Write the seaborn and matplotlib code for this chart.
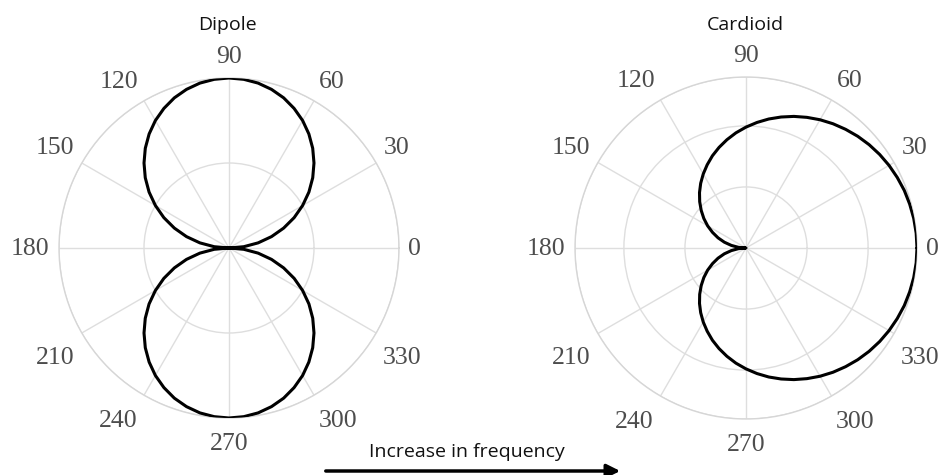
import numpy as np
import pandas as pd
import matplotlib
matplotlib.use("Agg")
import matplotlib.pyplot as plt
from matplotlib.transforms import ScaledTranslation
import seaborn as sns

# ---- data ----
angles_deg = list(range(0, 361, 5))
dipole_r = [0.000, 0.087, 0.174, 0.259, 0.342, 0.423, 0.500, 0.574, 0.643, 0.707,
            0.766, 0.819, 0.866, 0.906, 0.940, 0.966, 0.985, 0.996, 1.000,
            0.996, 0.985, 0.966, 0.940, 0.906, 0.866, 0.819, 0.766, 0.707, 0.643,
            0.574, 0.500, 0.423, 0.342, 0.259, 0.174, 0.087, 0.000,
            0.087, 0.174, 0.259, 0.342, 0.423, 0.500, 0.574, 0.643, 0.707,
            0.766, 0.819, 0.866, 0.906, 0.940, 0.966, 0.985, 0.996, 1.000,
            0.996, 0.985, 0.966, 0.940, 0.906, 0.866, 0.819, 0.766, 0.707, 0.643,
            0.574, 0.500, 0.423, 0.342, 0.259, 0.174, 0.087, 0.000]
cardioid_r = [1.000, 0.999, 0.996, 0.991, 0.985, 0.976, 0.966, 0.954, 0.940, 0.924,
              0.906, 0.887, 0.866, 0.843, 0.819, 0.793, 0.766, 0.737, 0.707, 0.676,
              0.643, 0.609, 0.574, 0.537, 0.500, 0.462, 0.423, 0.383, 0.342, 0.301,
              0.259, 0.216, 0.174, 0.131, 0.087, 0.044, 0.000,
              0.044, 0.087, 0.131, 0.174, 0.216, 0.259, 0.301, 0.342, 0.383, 0.423,
              0.462, 0.500, 0.537, 0.574, 0.609, 0.643, 0.676, 0.707, 0.737, 0.766,
              0.793, 0.819, 0.843, 0.866, 0.887, 0.906, 0.924, 0.940, 0.954, 0.966,
              0.976, 0.985, 0.991, 0.996, 0.999, 1.000]
tick_angles = [0, 30, 60, 90, 120, 150, 180, 210, 240, 270, 300, 330]
tick_labels = ["0", "30", "60", "90", "120", "150", "180", "210", "240", "270", "300", "330"]
titles = ["Dipole", "Cardioid"]
dipole_rings = [0.5, 1.0]
cardioid_rings = [0.357, 0.714, 1.0]
arrow_text = "Increase in frequency"

# extra per-label shifts (pixels, x right / y up) to mimic the reference's edge-aligned labels
label_shift = [(-4.5, -1), (3.8, 5.2), (8.2, 1.8), (0, 1.5), (-15.2, 1.8), (-9.8, 5.2),
               (-9.5, -1), (-9.8, -15.2), (-16.2, -8.8), (0, -6.5), (14.2, -8.8), (8.8, -15.2)]

sns.set_theme(style="white")
plt.rcParams["font.family"] = ["Open Sans", "DejaVu Sans"]

fig = plt.figure(figsize=(9.42, 4.75), dpi=100)
W, H = 942, 475
ax1 = fig.add_axes([59 / W, (475 - 248 - 170) / H, 340 / W, 340 / H], projection="polar")
ax2 = fig.add_axes([575 / W, (475 - 248 - 171) / H, 342 / W, 342 / H], projection="polar")

df1 = pd.DataFrame({"theta": np.deg2rad(angles_deg), "r": dipole_r})
df2 = pd.DataFrame({"theta": np.deg2rad(angles_deg), "r": cardioid_r})

for ax, df, rings, title in [(ax1, df1, dipole_rings, titles[0]),
                              (ax2, df2, cardioid_rings, titles[1])]:
    sns.lineplot(data=df, x="theta", y="r", ax=ax, sort=False, estimator=None,
                 color="black", lw=2.2, zorder=5)
    ax.set_rlim(0, 1.0)
    ax.set_rticks(rings)
    ax.set_yticklabels([])
    ax.set_thetagrids(tick_angles, tick_labels, fontfamily="Liberation Serif",
                      fontsize=18.5, color="#4d4d4d")
    ax.tick_params(axis="x", length=0, pad=0)
    ax.tick_params(axis="y", length=0)
    for tick, (sx, sy) in zip(ax.xaxis.get_major_ticks(), label_shift):
        tick.label1.set_transform(tick.label1.get_transform() +
                                  ScaledTranslation(sx / 100, sy / 100, fig.dpi_scale_trans))
    ax.grid(True, color="#dedede", lw=1.0)
    ax.spines["polar"].set_color("#d6d6d6")
    ax.spines["polar"].set_linewidth(1.0)
    ax.set_xlabel("")
    ax.set_ylabel("")

fig.text(227 / W, 1 - 25 / H, titles[0], ha="center", va="center", fontsize=14, color="#111111")
fig.text(745 / W, 1 - 25 / H, titles[1], ha="center", va="center", fontsize=14, color="#111111")

fig.text(467 / W, 1 - 452 / H, arrow_text, ha="center", va="center", fontsize=14, color="#111111")
fig.patches.append(matplotlib.patches.FancyArrowPatch(
    (323 / W, 1 - 471 / H), (623 / W, 1 - 471 / H), transform=fig.transFigure,
    arrowstyle="-|>,head_length=8,head_width=4", mutation_scale=1, lw=2.5, color="black"))

fig.savefig("out.png", dpi=100)
